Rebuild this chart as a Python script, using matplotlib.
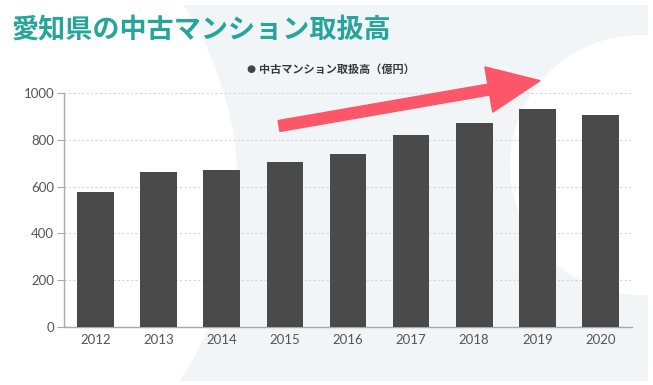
import matplotlib.pyplot as plt
from matplotlib.patches import Circle, Rectangle, FancyArrow
from matplotlib.transforms import Affine2D

plt.rcParams['font.family'] = ['Noto Sans CJK JP', 'DejaVu Sans']

years = ['2012', '2013', '2014', '2015', '2016', '2017', '2018', '2019', '2020']
values = [575, 664, 670, 705, 740, 822, 872, 933, 908]
yticks = [0, 200, 400, 600, 800, 1000]

title = '愛知県の中古マンション取扱高'
legend_label = '中古マンション取扱高（億円）'

W, H = 653, 385
fig = plt.figure(figsize=(W / 100, H / 100), dpi=100)
fig.patch.set_facecolor('white')

# pixel coordinates, origin top-left
pix = Affine2D().scale(1, -1).translate(0, H)

# light background card with two white blobs
bg = Rectangle((0, 5), 648, 376, facecolor='#f2f5f8', edgecolor='none',
               transform=pix, zorder=0)
fig.patches.append(bg)
for cx, cy, r in [(-102, 190, 340), (640, 165, 130)]:
    c = Circle((cx, cy), r, facecolor='white', edgecolor='none', zorder=0.5,
               transform=pix)
    c.set_clip_path(bg)
    fig.patches.append(c)

ax = fig.add_axes([64 / W, 1 - 327 / H, (632 - 64) / W, (327 - 93) / H])
ax.set_zorder(2)
ax.set_facecolor('none')
ax.bar(range(len(years)), values, width=0.58, color='#4a4a4a', zorder=3)
ax.set_xlim(-0.5, len(years) - 0.5)
ax.set_ylim(0, 1000)
ax.set_yticks(yticks)
ax.set_xticks(range(len(years)))
ax.set_xticklabels(years)
ax.grid(axis='y', color='#d6d6d6', linestyle=(0, (2, 2)), linewidth=0.8, zorder=0)
for s in ['top', 'right']:
    ax.spines[s].set_visible(False)
for s in ['left', 'bottom']:
    ax.spines[s].set_color('#a8a8a8')
    ax.spines[s].set_linewidth(1)
ax.tick_params(axis='y', length=5, color='#a8a8a8', labelsize=9.5,
               labelcolor='#555555', pad=2)
ax.tick_params(axis='x', length=0, labelsize=9.5, labelcolor='#555555', pad=5)
for lbl in ax.get_xticklabels() + ax.get_yticklabels():
    lbl.set_family('Lato')

fig.text(12 / W, 1 - 30 / H, title, color='#26a59a', fontsize=19.5,
         fontweight='bold', va='center', ha='left', zorder=3)
fig.text(251 / W, 1 - 69 / H, '●', color='#444444', fontsize=7.5,
         va='center', ha='center', family='DejaVu Sans', zorder=3)
fig.text(259 / W, 1 - 69 / H, legend_label, color='#3a3a3a', fontsize=8,
         va='center', ha='left', fontweight='bold', zorder=3)

arrow = FancyArrow(279, 126, 259 * 0.81, -45 * 0.81, width=11, head_width=46,
                   head_length=52, length_includes_head=False,
                   color='#fc5769', transform=pix, zorder=5)
fig.patches.append(arrow)

fig.savefig('out.png', dpi=100, facecolor=fig.get_facecolor())
